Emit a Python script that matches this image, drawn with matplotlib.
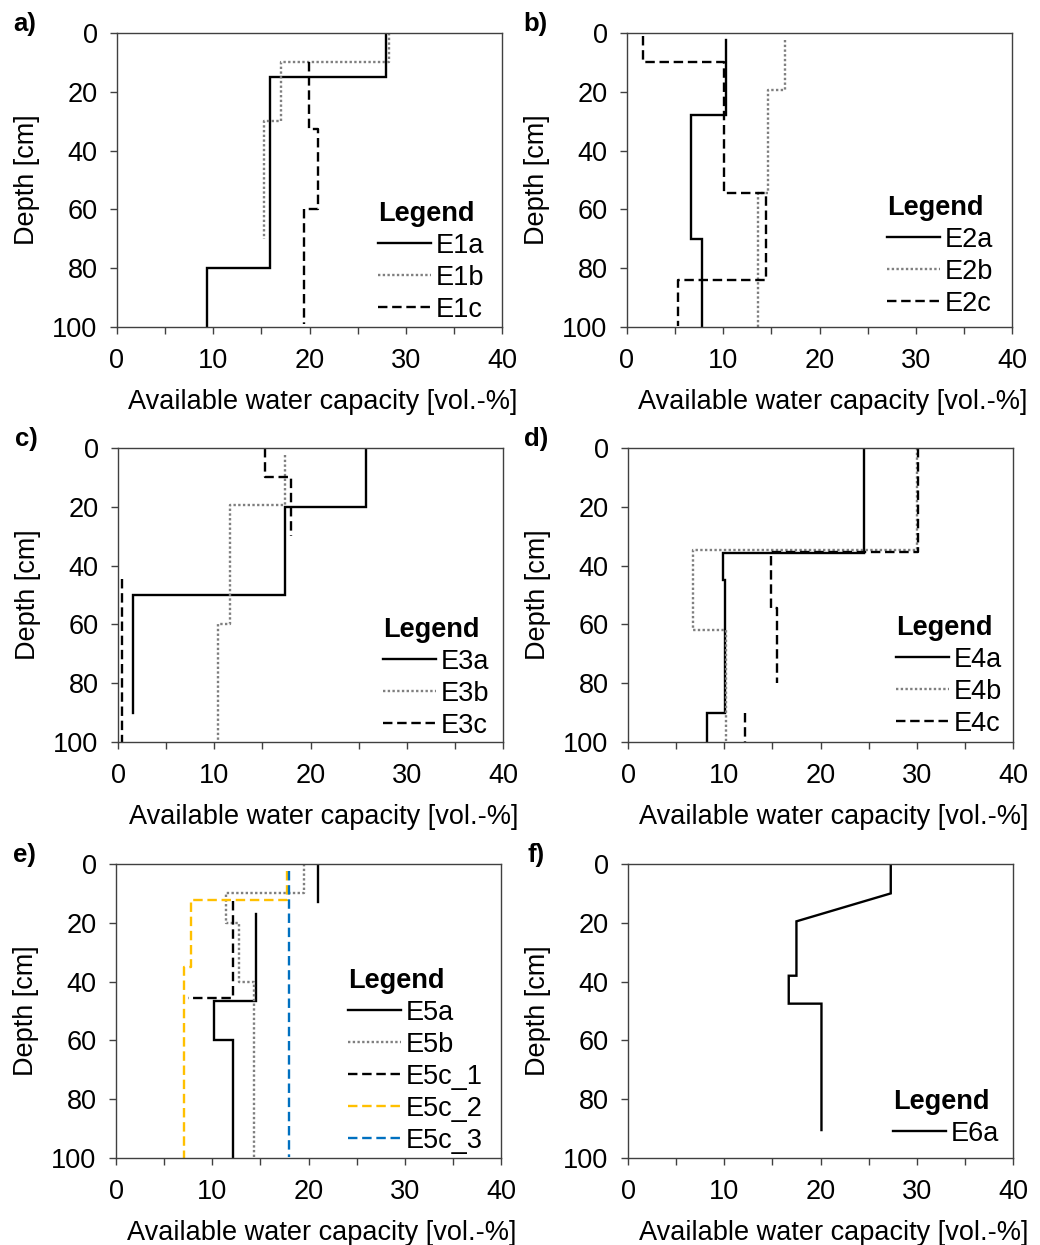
import numpy as np
import matplotlib
matplotlib.use("Agg")
import matplotlib.pyplot as plt

plt.rcParams["font.family"] = ["Liberation Sans", "DejaVu Sans"]

nan = np.nan

# ── data: available water capacity [vol.-%] vs depth [cm] ──────────
# a)
E1a_awc = [27.9, 27.9, 15.9, 15.9, 9.3, 9.3]
E1a_depth = [0, 15, 15, 80, 80, 100]
E1b_awc = [28.3, 28.3, 17.0, 17.0, 15.3, 15.3]
E1b_depth = [0, 10, 10, 30, 30, 70]
E1c_awc = [19.9, 19.9, 20.9, 20.9, 19.4, 19.4]
E1c_depth = [10, 32.5, 32.5, 60, 60, 99]
# b)
E2a_awc = [10.3, 10.3, 6.6, 6.6, 7.8, 7.8]
E2a_depth = [2.5, 28, 28, 70, 70, 100]
E2b_awc = [16.4, 16.4, 14.7, 14.7, 13.6, 13.6]
E2b_depth = [2.5, 19.5, 19.5, 54.5, 54.5, 100]
E2c_awc = [1.7, 1.7, 10.1, 10.1, 14.4, 14.4, 5.3, 5.3]
E2c_depth = [1, 10, 10, 54.5, 54.5, 84, 84, 99.5]
# c)
E3a_awc = [25.8, 25.8, 17.4, 17.4, 1.6, 1.6]
E3a_depth = [0, 20, 20, 50, 50, 90]
E3b_awc = [17.3, 17.3, 11.6, 11.6, 10.4, 10.4]
E3b_depth = [2.3, 19.5, 19.5, 60, 60, 99.5]
E3c_awc = [15.3, 15.3, 18.0, 18.0, nan, 0.4, 0.4]
E3c_depth = [0, 10, 10, 30, nan, 44.5, 100]
# d)
E4a_awc = [24.5, 24.5, 9.9, 9.9, 10.1, 10.1, 8.2, 8.2]
E4a_depth = [0, 35.7, 35.7, 45, 45, 90, 90, 100]
E4b_awc = [30.0, 30.0, 6.8, 6.8, 10.2, 10.2]
E4b_depth = [0, 34.8, 34.8, 62, 62, 99.5]
E4c_awc = [30.1, 30.1, 14.9, 14.9, 15.5, 15.5, nan, 12.2, 12.2]
E4c_depth = [0, 35.4, 35.4, 54.5, 54.5, 80, nan, 90, 100]
# e)
E5a_awc = [21.0, 21.0, nan, 14.5, 14.5, 10.2, 10.2, 12.2, 12.2]
E5a_depth = [0, 13, nan, 17, 46.5, 46.5, 60, 60, 100]
E5b_awc = [19.5, 19.5, 11.4, 11.4, 12.8, 12.8, 14.3, 14.3]
E5b_depth = [0, 10, 10, 20, 20, 40, 40, 99.5]
E5c_1_awc = [12.2, 12.2, 7.5]
E5c_1_depth = [12.5, 45.5, 45.5]
E5c_2_awc = [17.8, 17.8, 7.8, 7.8, 7.1, 7.1]
E5c_2_depth = [2.3, 12.2, 12.2, 35, 35, 100]
E5c_3_awc = [18.0, 18.0]
E5c_3_depth = [2.3, 99.5]
# f)
E6a_awc = [27.3, 27.3, 17.5, 17.5, 16.7, 16.7, 20.1, 20.1]
E6a_depth = [0, 10, 19.5, 38, 38, 47.5, 47.5, 90.5]

# ── styles ──────────────────────────────────────────────────────────
LW = 1.7
STY = {
    "solid":  dict(color="black", lw=LW, linestyle="-"),
    "dot":    dict(color="#7f7f7f", lw=LW, linestyle=(0, (1, 1))),
    "dash":   dict(color="black", lw=LW, linestyle=(0, (4, 2))),
    "yellow": dict(color="#FFC000", lw=LW, linestyle=(0, (4, 2))),
    "blue":   dict(color="#0070C0", lw=LW, linestyle=(0, (4, 2))),
}

W, H = 1040, 1245
FS = 19.5

# panel: label, top-left pixel of axes, series, legend anchor (px)
panels = [
    ("a)", (117, 33), [("E1a", E1a_awc, E1a_depth, "solid"),
                       ("E1b", E1b_awc, E1b_depth, "dot"),
                       ("E1c", E1c_awc, E1c_depth, "dash")], (378, 201)),
    ("b)", (627, 33), [("E2a", E2a_awc, E2a_depth, "solid"),
                       ("E2b", E2b_awc, E2b_depth, "dot"),
                       ("E2c", E2c_awc, E2c_depth, "dash")], (887, 195)),
    ("c)", (118, 448), [("E3a", E3a_awc, E3a_depth, "solid"),
                        ("E3b", E3b_awc, E3b_depth, "dot"),
                        ("E3c", E3c_awc, E3c_depth, "dash")], (383, 617)),
    ("d)", (628, 448), [("E4a", E4a_awc, E4a_depth, "solid"),
                        ("E4b", E4b_awc, E4b_depth, "dot"),
                        ("E4c", E4c_awc, E4c_depth, "dash")], (896, 615)),
    ("e)", (116, 864), [("E5a", E5a_awc, E5a_depth, "solid"),
                        ("E5b", E5b_awc, E5b_depth, "dot"),
                        ("E5c_1", E5c_1_awc, E5c_1_depth, "dash"),
                        ("E5c_2", E5c_2_awc, E5c_2_depth, "yellow"),
                        ("E5c_3", E5c_3_awc, E5c_3_depth, "blue")], (348, 968)),
    ("f)", (628, 864), [("E6a", E6a_awc, E6a_depth, "solid")], (893, 1089)),
]

AX_W, AX_H = 385, 294
FRAME = "#404040"

fig = plt.figure(figsize=(W / 100, H / 100), dpi=100)
fig.patch.set_facecolor("white")

for label, (px, py), series, (lx, ly) in panels:
    ax = fig.add_axes([px / W, 1 - (py + AX_H) / H, AX_W / W, AX_H / H])
    for name, xs, ys, sty in series:
        ax.plot(xs, ys, label=name, solid_joinstyle="miter", **STY[sty])

    ax.set_xlim(0, 40)
    ax.set_ylim(100, 0)
    ax.set_xticks([0, 10, 20, 30, 40])
    ax.set_xticks([5, 15, 25, 35], minor=True)
    ax.set_yticks([0, 20, 40, 60, 80, 100])
    ax.tick_params(axis="both", which="both", direction="out", length=5,
                   width=1, color=FRAME, labelsize=FS)
    ax.tick_params(axis="x", pad=10)
    ax.tick_params(axis="y", pad=9)
    for sp in ax.spines.values():
        sp.set_color(FRAME)
        sp.set_linewidth(1)

    ax.set_xlabel("Available water capacity [vol.-%]", fontsize=FS)
    ax.xaxis.set_label_coords(0.535, -0.21)
    ax.set_ylabel("Depth [cm]", fontsize=FS)
    ax.yaxis.set_label_coords(-0.2, 0.5)

    fig.text((px - 92) / W, 1 - (py - 9) / H, label, fontsize=FS - 1,
             fontweight="bold", ha="center", va="center")

    leg = ax.legend(loc="upper left", bbox_to_anchor=(lx / W, 1 - ly / H),
                    bbox_transform=fig.transFigure, frameon=False,
                    title="Legend", alignment="left", fontsize=FS,
                    title_fontproperties={"weight": "bold", "size": FS},
                    handlelength=1.95, handletextpad=0.2, labelspacing=0.22,
                    borderpad=0, borderaxespad=0)

fig.savefig("out.png", dpi=100)
